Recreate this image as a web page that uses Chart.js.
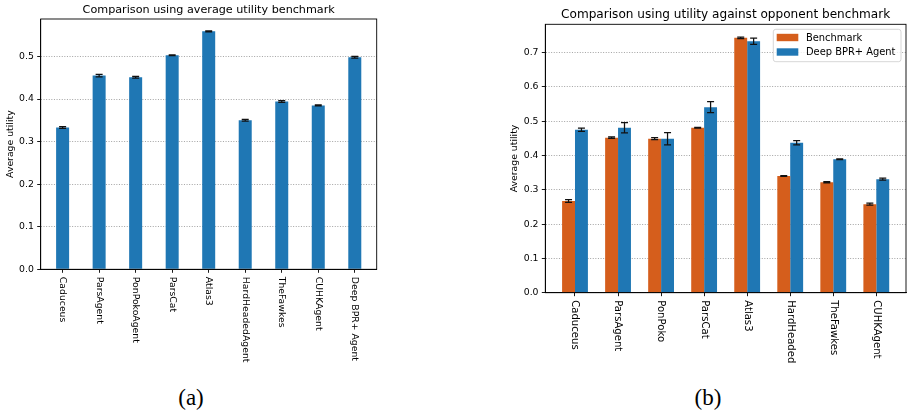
<!DOCTYPE html>
<html><head><meta charset="utf-8">
<script src="https://cdn.jsdelivr.net/npm/chart.js@4.4.1/dist/chart.umd.min.js"></script>
<style>
html,body{margin:0;padding:0;background:#fff;width:911px;height:413px;overflow:hidden;position:relative}
canvas{position:absolute;top:0}
#c1{left:0}
#c2{left:500px}
.cap{position:absolute;top:386px;font-family:"Liberation Serif",serif;font-size:23px;line-height:23px;color:#000;transform:translateX(-50%);white-space:nowrap}
</style></head><body>
<canvas id="c1" width="460" height="380"></canvas>
<canvas id="c2" width="411" height="380"></canvas>
<div class="cap" style="left:191px">(a)</div>
<div class="cap" style="left:708px">(b)</div>
<script>
// ---- data ----
const leftTitle = 'Comparison using average utility benchmark';
const leftLabels = ['Caduceus','ParsAgent','PonPokoAgent','ParsCat','Atlas3','HardHeadedAgent','TheFawkes','CUHKAgent','Deep BPR+ Agent'];
const leftValues = [0.333,0.455,0.451,0.503,0.559,0.350,0.394,0.385,0.498];
const leftErrors = [0.002,0.003,0.002,0.001,0.001,0.002,0.002,0.001,0.002];

const rightTitle = 'Comparison using utility against opponent benchmark';
const rightLabels = ['Caduceus','ParsAgent','PonPoko','ParsCat','Atlas3','HardHeaded','TheFawkes','CUHKAgent'];
const seriesNames = ['Benchmark','Deep BPR+ Agent'];
const benchmarkValues = [0.267,0.452,0.449,0.481,0.743,0.340,0.322,0.258];
const benchmarkErrors = [0.004,0.002,0.003,0.001,0.002,0.001,0.002,0.003];
const deepValues = [0.475,0.481,0.449,0.541,0.733,0.437,0.389,0.331];
const deepErrors = [0.005,0.015,0.018,0.016,0.009,0.006,0.001,0.003];

const yLabel = 'Average utility';
const BLUE = '#1f77b4';
const ORANGE = '#d55e1c';
const FONT = '"DejaVu Sans", sans-serif';

function toPoints(vals){ return vals.map((v,i)=>({x:i,y:v})); }

function decor(cfg){
  return {
    id:'decor',
    afterDatasetsDraw(chart){
      const ctx=chart.ctx, ys=chart.scales.y;
      ctx.save();
      ctx.strokeStyle='#111'; ctx.lineWidth=1.25;
      cfg.errors.forEach((errs,d)=>{
        const meta=chart.getDatasetMeta(d);
        meta.data.forEach((el,i)=>{
          const v=chart.data.datasets[d].data[i].y;
          const x=el.x;
          const t=ys.getPixelForValue(v+errs[i]), b=ys.getPixelForValue(v-errs[i]);
          ctx.beginPath();
          ctx.moveTo(x,t); ctx.lineTo(x,b);
          ctx.moveTo(x-3.5,t); ctx.lineTo(x+3.5,t);
          ctx.moveTo(x-3.5,b); ctx.lineTo(x+3.5,b);
          ctx.stroke();
        });
      });
      ctx.restore();
    },
    afterDraw(chart){
      const ctx=chart.ctx, a=chart.chartArea, xs=chart.scales.x;
      ctx.save();
      ctx.strokeStyle='#000'; ctx.lineWidth=0.9;
      ctx.strokeRect(a.left,a.top,a.right-a.left,a.bottom-a.top);
      ctx.fillStyle='#000';
      ctx.font=cfg.titleSize+'px '+FONT; ctx.textAlign='center'; ctx.textBaseline='alphabetic';
      ctx.fillText(cfg.title,(a.left+a.right)/2,a.top-6);
      ctx.font=cfg.labelSize+'px '+FONT; ctx.textAlign='left'; ctx.textBaseline='middle';
      cfg.labels.forEach((lab,i)=>{
        ctx.save();
        ctx.translate(xs.getPixelForValue(i), a.bottom+7.5);
        ctx.rotate(Math.PI/2);
        ctx.fillText(lab,0,0);
        ctx.restore();
      });
      if(cfg.legend){
        const w=127.7, h=32.4, L=a.right-5-w, T=a.top+5;
        ctx.beginPath();
        ctx.roundRect(L,T,w,h,2.5);
        ctx.fillStyle='rgba(255,255,255,0.8)'; ctx.fill();
        ctx.strokeStyle='#cccccc'; ctx.lineWidth=0.8; ctx.stroke();
        chart.data.datasets.forEach((ds,k)=>{
          const cy=T+8.2+k*14.5;
          ctx.fillStyle=ds.backgroundColor;
          ctx.fillRect(L+3.4,cy-3.7,21.6,7.4);
          ctx.fillStyle='#000';
          ctx.font='9.9px '+FONT; ctx.textAlign='left'; ctx.textBaseline='middle';
          ctx.fillText(ds.label,L+32.7,cy+0.5);
        });
      }
      ctx.restore();
    }
  };
}

function options(labels,xmin,xmax,ymax,pad){
  return {
    responsive:false, animation:false, devicePixelRatio:1,
    layout:{padding:pad},
    plugins:{legend:{display:false},tooltip:{enabled:false},title:{display:false}},
    scales:{
      x:{type:'linear',min:xmin,max:xmax,offset:false,
        grid:{offset:false,drawOnChartArea:false,drawTicks:true,tickLength:3.5,tickColor:'#000',tickWidth:0.9},
        border:{display:true,color:'#000',width:0.9},
        ticks:{display:false},
        afterBuildTicks:s=>{ s.ticks = labels.map((_,i)=>({value:i})); },
        afterFit:s=>{ s.height=80; }
      },
      y:{min:0,max:ymax,
        ticks:{stepSize:0.1,includeBounds:false,color:'#000',font:{family:'DejaVu Sans',size:9.3},padding:3.3,
          callback:v=>Number(v).toFixed(1)},
        grid:{color:'#999999',lineWidth:0.9,tickColor:'#000',tickLength:3.5,tickWidth:0.9,tickBorderDash:[]},
        border:{display:true,color:'#000',width:0.9,dash:[1,1.6]},
        title:{display:true,text:yLabel,color:'#000',font:{family:'DejaVu Sans',size:9.3},padding:{top:4,bottom:0}},
        afterFit:s=>{ s.width=40; }
      }
    }
  };
}

new Chart(document.getElementById('c1'),{
  type:'bar',
  data:{datasets:[{label:'Average utility',data:toPoints(leftValues),backgroundColor:BLUE,
    barPercentage:0.356,categoryPercentage:1}]},
  options:options(leftLabels,-0.6,8.6,0.588,{left:0.7,top:19,right:83.3,bottom:30.7}),
  plugins:[decor({title:leftTitle,titleSize:11.2,labelSize:9.3,labels:leftLabels,errors:[leftErrors],legend:false})]
});

new Chart(document.getElementById('c2'),{
  type:'bar',
  data:{datasets:[
    {label:seriesNames[0],data:toPoints(benchmarkValues),backgroundColor:ORANGE,barPercentage:1,categoryPercentage:0.6},
    {label:seriesNames[1],data:toPoints(deepValues),backgroundColor:BLUE,barPercentage:1,categoryPercentage:0.6}
  ]},
  options:options(rightLabels,-0.69,7.69,0.7825,{left:5.3,top:24.3,right:5,bottom:7.3}),
  plugins:[decor({title:rightTitle,titleSize:12.1,labelSize:10.1,labels:rightLabels,errors:[benchmarkErrors,deepErrors],legend:true})]
});
</script>
</body></html>
